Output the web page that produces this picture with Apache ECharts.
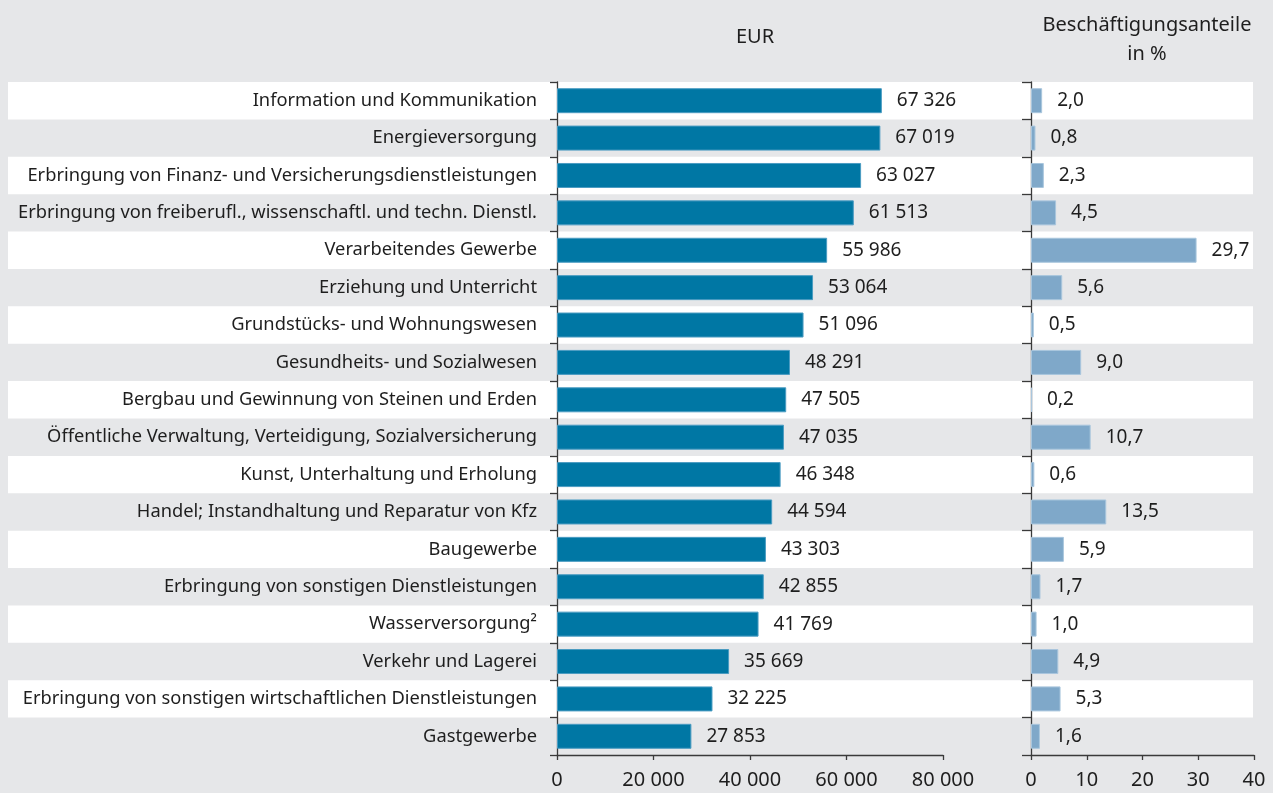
<!DOCTYPE html>
<html>
<head>
<meta charset="utf-8">
<script src="https://cdn.jsdelivr.net/npm/echarts@6/dist/echarts.min.js"></script>
<style>
  html, body { margin: 0; padding: 0; background: #e6e7e9; }
  #chart { width: 1273px; height: 793px; }
</style>
</head>
<body>
<div id="chart"></div>
<script>
const categories = [
  'Information und Kommunikation',
  'Energieversorgung',
  'Erbringung von Finanz- und Versicherungsdienstleistungen',
  'Erbringung von freiberufl., wissenschaftl. und techn. Dienstl.',
  'Verarbeitendes Gewerbe',
  'Erziehung und Unterricht',
  'Grundstücks- und Wohnungswesen',
  'Gesundheits- und Sozialwesen',
  'Bergbau und Gewinnung von Steinen und Erden',
  'Öffentliche Verwaltung, Verteidigung, Sozialversicherung',
  'Kunst, Unterhaltung und Erholung',
  'Handel; Instandhaltung und Reparatur von Kfz',
  'Baugewerbe',
  'Erbringung von sonstigen Dienstleistungen',
  'Wasserversorgung²',
  'Verkehr und Lagerei',
  'Erbringung von sonstigen wirtschaftlichen Dienstleistungen',
  'Gastgewerbe'
]
const earnings = [67326, 67019, 63027, 61513, 55986, 53064, 51096, 48291, 47505, 47035, 46348, 44594, 43303, 42855, 41769, 35669, 32225, 27853]
const shares = [2.0, 0.8, 2.3, 4.5, 29.7, 5.6, 0.5, 9.0, 0.2, 10.7, 0.6, 13.5, 5.9, 1.7, 1.0, 4.9, 5.3, 1.6]

const eurTicks = [0, 20000, 40000, 60000, 80000]
const shareTicks = [0, 10, 20, 30, 40]

const FONT = '"Noto Sans", sans-serif'
const TEXT = '#1e1e1e'

const fmtThousands = (v) => String(v).replace(/\B(?=(\d{3})+(?!\d))/g, ' ')
const fmtComma = (v) => v.toFixed(1).replace('.', ',')

const chart = echarts.init(document.getElementById('chart'))

const gridTop = 82
const gridHeight = 673

const option = {
  backgroundColor: '#e6e7e9',
  animation: false,
  textStyle: { fontFamily: FONT, color: TEXT },
  title: [
    {
      text: 'EUR',
      left: 750, top: 22, textAlign: 'center',
      textStyle: { fontFamily: FONT, fontSize: 20, fontWeight: 'normal', color: TEXT }
    },
    {
      text: 'Beschäftigungsanteile\nin %',
      left: 1142, top: 6, textAlign: 'center',
      textStyle: { fontFamily: FONT, fontSize: 20, fontWeight: 'normal', color: TEXT, lineHeight: 29 }
    }
  ],
  grid: [
    // background bands
    { left: 8, right: 20, top: gridTop, height: gridHeight },
    { left: 557, width: 386, top: gridTop, height: gridHeight },
    { left: 1031, width: 223, top: gridTop, height: gridHeight }
  ],
  xAxis: [
    { gridIndex: 0, type: 'value', min: 0, max: 1, show: false },
    {
      gridIndex: 1, type: 'value', min: 0, max: 80000, interval: 20000,
      axisLine: { show: true, lineStyle: { color: '#3a3a3a', width: 1.3 } },
      axisTick: { show: true, length: 5, lineStyle: { color: '#3a3a3a', width: 1.3 } },
      splitLine: { show: false },
      axisLabel: {
        fontFamily: FONT, fontSize: 20, color: TEXT, margin: 15,
        formatter: (v) => eurTicks.includes(v) ? fmtThousands(v) : ''
      }
    },
    {
      gridIndex: 2, type: 'value', min: 0, max: 40, interval: 10,
      axisLine: { show: true, lineStyle: { color: '#3a3a3a', width: 1.3 } },
      axisTick: { show: true, length: 5, lineStyle: { color: '#3a3a3a', width: 1.3 } },
      splitLine: { show: false },
      axisLabel: {
        fontFamily: FONT, fontSize: 20, color: TEXT, margin: 15,
        formatter: (v) => shareTicks.includes(v) ? String(v) : ''
      }
    }
  ],
  yAxis: [
    {
      gridIndex: 0, type: 'category', data: categories, inverse: true,
      axisLine: { show: false }, axisTick: { show: false }, axisLabel: { show: false },
      splitLine: { show: false },
      splitArea: { show: true, areaStyle: { color: ['#ffffff', 'rgba(0,0,0,0)'] } }
    },
    {
      gridIndex: 1, type: 'category', data: categories, inverse: true,
      axisLine: { show: true, lineStyle: { color: '#3a3a3a', width: 1.3 } },
      axisTick: { show: true, length: 7, lineStyle: { color: '#3a3a3a', width: 1.3 } },
      axisLabel: { fontFamily: FONT, fontSize: 18.3, color: TEXT, margin: 20 }
    },
    {
      gridIndex: 2, type: 'category', data: categories, inverse: true,
      axisLine: { show: true, lineStyle: { color: '#3a3a3a', width: 1.3 } },
      axisTick: { show: true, length: 9, lineStyle: { color: '#3a3a3a', width: 1.3 } },
      axisLabel: { show: false }
    }
  ],
  series: [
    {
      name: 'EUR',
      type: 'bar',
      xAxisIndex: 1,
      yAxisIndex: 1,
      data: earnings,
      barWidth: 25,
      itemStyle: { color: '#0077a4', borderColor: '#4b9cc2', borderWidth: 1 },
      label: {
        show: true, position: 'right', distance: 15,
        fontFamily: FONT, fontSize: 19, color: TEXT,
        formatter: (p) => fmtThousands(p.value)
      }
    },
    {
      name: 'Beschäftigungsanteile',
      type: 'bar',
      xAxisIndex: 2,
      yAxisIndex: 2,
      data: shares,
      barWidth: 25,
      itemStyle: { color: '#7fa8c9', borderColor: '#a9c6dd', borderWidth: 1 },
      label: {
        show: true, position: 'right', distance: 15,
        fontFamily: FONT, fontSize: 19, color: TEXT,
        formatter: (p) => fmtComma(p.value)
      }
    }
  ]
}

chart.setOption(option)
</script>
</body>
</html>
